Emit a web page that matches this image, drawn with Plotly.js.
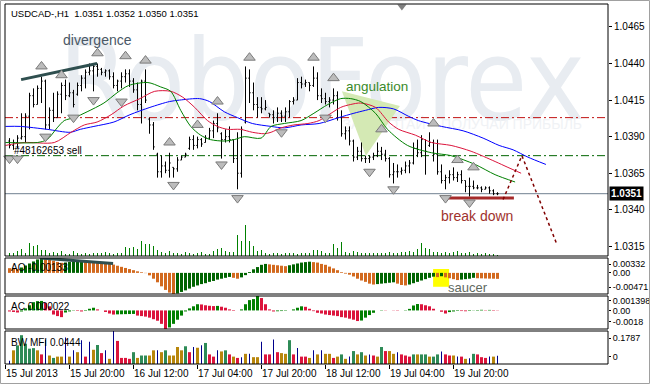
<!DOCTYPE html>
<html><head><meta charset="utf-8">
<script src="https://cdn.plot.ly/plotly-3.0.1.min.js"></script>
<style>html,body{margin:0;padding:0;background:#fff;}#chart{width:650px;height:384px;}</style>
</head><body><div id="chart"></div>
<script>
// ---------------- DATA ----------------
const chartTitle = "USDCAD-,H1\u00a0\u00a01.0351 1.0352 1.0350 1.0351";
const timeTickIndex = [0, 16, 32, 48, 64, 80, 96, 112];
const timeTickText = ["15 Jul 2013", "15 Jul 20:00", "16 Jul 12:00", "17 Jul 04:00", "17 Jul 20:00", "18 Jul 12:00", "19 Jul 04:00", "19 Jul 20:00"];
const priceTicks = [1.0465, 1.0440, 1.0415, 1.0390, 1.0365, 1.0340, 1.0315];

const openP = [1.0387,1.0384,1.0386,1.0389,1.0390,1.0404,1.0418,1.0412,1.0423,1.0428,
 1.0398,1.0408,1.0403,1.0419,1.0425,1.0418,1.0420,1.0419,1.0425,1.0430,
 1.0434,1.0435,1.0438,1.0436,1.0434,1.0435,1.0431,1.0425,1.0428,1.0431,
 1.0433,1.0428,1.0422,1.0412,1.0428,1.0402,1.0398,1.0378,1.0366,1.0370,
 1.0367,1.0369,1.0368,1.0374,1.0376,1.0382,1.0388,1.0384,1.0388,1.0386,
 1.0389,1.0394,1.0399,1.0392,1.0388,1.0390,1.0388,1.0375,1.0365,1.0400,
 1.0430,1.0420,1.0412,1.0410,1.0409,1.0406,1.0405,1.0403,1.0406,1.0404,
 1.0407,1.0414,1.0415,1.0427,1.0426,1.0427,1.0425,1.0430,1.0418,1.0416,
 1.0414,1.0415,1.0418,1.0403,1.0392,1.0394,1.0387,1.0376,1.0380,1.0375,
 1.0375,1.0376,1.0377,1.0380,1.0378,1.0375,1.0364,1.0366,1.0366,1.0367,
 1.0370,1.0372,1.0382,1.0379,1.0388,1.0384,1.0386,1.0378,1.0366,1.0360,
 1.0362,1.0364,1.0362,1.0364,1.0360,1.0356,1.0356,1.0355,1.0355,1.0354,
 1.0355,1.0353,1.0351];
const highP = [1.0389,1.0388,1.0391,1.0406,1.0406,1.0420,1.0423,1.0425,1.0431,1.0429,
 1.0410,1.0420,1.0421,1.0427,1.0429,1.0427,1.0422,1.0427,1.0432,1.0436,
 1.0440,1.0440,1.0440,1.0437,1.0436,1.0436,1.0434,1.0429,1.0434,1.0436,
 1.0436,1.0430,1.0427,1.0429,1.0436,1.0403,1.0400,1.0379,1.0377,1.0373,
 1.0379,1.0369,1.0376,1.0377,1.0379,1.0390,1.0391,1.0390,1.0389,1.0391,
 1.0396,1.0401,1.0406,1.0393,1.0395,1.0397,1.0388,1.0393,1.0397,1.0438,
 1.0436,1.0427,1.0417,1.0417,1.0415,1.0406,1.0408,1.0410,1.0408,1.0410,
 1.0415,1.0417,1.0430,1.0431,1.0429,1.0427,1.0438,1.0434,1.0423,1.0420,
 1.0417,1.0423,1.0421,1.0408,1.0397,1.0397,1.0388,1.0383,1.0386,1.0377,
 1.0377,1.0379,1.0386,1.0383,1.0381,1.0376,1.0372,1.0371,1.0369,1.0373,
 1.0374,1.0386,1.0388,1.0391,1.0388,1.0393,1.0388,1.0388,1.0371,1.0364,
 1.0367,1.0369,1.0366,1.0367,1.0360,1.0362,1.0360,1.0357,1.0356,1.0356,
 1.0356,1.0354,1.0352];
const lowP = [1.0382,1.0381,1.0382,1.0388,1.0386,1.0395,1.0410,1.0412,1.0413,1.0395,
 1.0395,1.0400,1.0403,1.0406,1.0415,1.0417,1.0410,1.0418,1.0421,1.0423,
 1.0432,1.0421,1.0431,1.0432,1.0431,1.0429,1.0423,1.0421,1.0423,1.0427,
 1.0424,1.0420,1.0408,1.0399,1.0413,1.0392,1.0381,1.0362,1.0362,1.0365,
 1.0362,1.0362,1.0366,1.0374,1.0376,1.0381,1.0381,1.0382,1.0383,1.0386,
 1.0388,1.0389,1.0393,1.0375,1.0386,1.0386,1.0372,1.0354,1.0362,1.0399,
 1.0413,1.0408,1.0403,1.0406,1.0408,1.0403,1.0399,1.0400,1.0400,1.0400,
 1.0403,1.0412,1.0415,1.0423,1.0424,1.0421,1.0424,1.0415,1.0413,1.0412,
 1.0410,1.0412,1.0401,1.0390,1.0388,1.0384,1.0373,1.0374,1.0373,1.0372,
 1.0372,1.0374,1.0376,1.0374,1.0373,1.0362,1.0358,1.0362,1.0364,1.0365,
 1.0365,1.0371,1.0376,1.0376,1.0364,1.0383,1.0373,1.0364,1.0358,1.0354,
 1.0358,1.0360,1.0359,1.0358,1.0352,1.0349,1.0354,1.0354,1.0352,1.0354,
 1.0351,1.0350,1.0350];
const closeP = [1.0384,1.0386,1.0389,1.0390,1.0404,1.0418,1.0412,1.0423,1.0428,1.0398,
 1.0408,1.0403,1.0419,1.0425,1.0418,1.0420,1.0412,1.0425,1.0430,1.0434,
 1.0435,1.0438,1.0436,1.0434,1.0435,1.0431,1.0425,1.0428,1.0431,1.0433,
 1.0428,1.0422,1.0412,1.0428,1.0415,1.0398,1.0383,1.0366,1.0370,1.0367,
 1.0372,1.0368,1.0374,1.0376,1.0378,1.0388,1.0384,1.0388,1.0385,1.0389,
 1.0394,1.0399,1.0396,1.0388,1.0390,1.0388,1.0375,1.0365,1.0395,1.0430,
 1.0420,1.0412,1.0410,1.0409,1.0410,1.0405,1.0403,1.0406,1.0404,1.0407,
 1.0414,1.0415,1.0427,1.0426,1.0427,1.0425,1.0430,1.0418,1.0416,1.0414,
 1.0415,1.0418,1.0403,1.0392,1.0394,1.0387,1.0376,1.0380,1.0375,1.0375,
 1.0376,1.0377,1.0380,1.0378,1.0375,1.0364,1.0366,1.0366,1.0367,1.0370,
 1.0372,1.0382,1.0379,1.0388,1.0380,1.0386,1.0378,1.0366,1.0360,1.0362,
 1.0364,1.0362,1.0364,1.0360,1.0356,1.0356,1.0355,1.0355,1.0354,1.0355,
 1.0353,1.0351,1.0351];
const tickVolume = [150,150,250,350,150,650,500,550,300,300,
 150,200,150,250,100,100,250,150,100,150,
 100,150,150,150,200,150,100,150,150,450,
 400,450,350,750,600,600,500,300,200,150,
 250,150,150,100,200,150,100,150,200,100,
 100,250,350,400,250,200,200,1050,750,1550,
 750,500,250,300,150,100,150,150,100,150,
 150,150,100,150,150,150,300,300,250,150,
 150,600,400,700,200,150,250,200,150,150,
 150,150,150,150,150,200,150,150,200,200,
 250,200,350,650,400,350,200,200,150,200,
 150,200,250,150,150,200,100,150,100,150,
 100,100,50];

// Alligator lines
const jawX = [0,3.7,10.4,16.2,18.7,22.1,27.1,31.1,36.1,41,43.5,48.5,51,54.7,58,61.7,66.4,69.7,73.9,78.4,83.3,87.1,90,93.3,97,100.7,103.2,109,114.4,119.4,123.4,126.9,130.6,135.1];
const jawY = [1.0397,1.0397,1.0395,1.0393,1.0395,1.0397,1.0400,1.0405,1.0410,1.0414,1.0415,1.0416,1.0414,1.0407,1.0403,1.0399,1.0397,1.0396,1.0398,1.0399,1.0403,1.0406,1.0408,1.0410,1.0409,1.0404,1.0401,1.0397,1.0394,1.0389,1.0384,1.0381,1.0376,1.0371];
const teethX = [0,4.7,12.2,16.4,19.7,22.9,26.4,29.6,33.6,37.3,41.3,44.3,47.3,50.5,53,55.5,58.7,61.7,64.7,66.4,68.9,72.1,75.6,78.4,83.8,86.3,88.8,92.5,95.8,98.3,102.5,106.5,111.4,116.4,122.4,125.6,128.9];
const teethY = [1.0384,1.0386,1.0386,1.0393,1.0398,1.0400,1.0405,1.0411,1.0416,1.0421,1.0421,1.0417,1.0410,1.0401,1.0397,1.0395,1.0395,1.0393,1.0392,1.0393,1.0396,1.0398,1.0399,1.0401,1.0410,1.0412,1.0413,1.0410,1.0400,1.0395,1.0391,1.0386,1.0384,1.0380,1.0373,1.0369,1.0365];
const lipsX = [0,8,10.4,12.9,14.7,17.2,20.4,24.6,27.9,30.8,35.6,38.8,41.3,43.8,46.3,48.8,51.2,54.7,57.2,59.7,63.9,66.4,69.7,73.9,77.1,80.6,83.8,86.3,88.8,92.5,95.5,100.5,106.5,111.4,117.4,122.4,127.4];
const lipsY = [1.0386,1.0386,1.0388,1.0396,1.0401,1.0403,1.0407,1.0413,1.0420,1.0425,1.0427,1.0424,1.0421,1.0408,1.0397,1.0391,1.0388,1.0387,1.0388,1.0390,1.0389,1.0397,1.0399,1.0401,1.0406,1.0412,1.0416,1.0416,1.0414,1.0406,1.0395,1.0384,1.0379,1.0377,1.0371,1.0364,1.0359];

// Fractals
const fracUpX = [9,14,23,30,35,41,48,53,61,77,82,94,107,113,117];
const fracUpY = [1.0438,1.0432,1.0447,1.0445,1.0442,1.0386,1.0398,1.0414,1.0444,1.0444,1.0430,1.0395,1.0399,1.0374,1.0369];
const fracDnX = [1,3,10,17,22,29,42,54,58,69,80,91,97,110,116];
const fracDnY = [1.0375,1.0375,1.0390,1.0403,1.0415,1.0414,1.0357,1.0371,1.0348,1.0393,1.0403,1.0366,1.0354,1.0348,1.0345];

// Levels and drawings
const stopLevel = 1.0403, orderLevel = 1.0377, bidPrice = 1.0351;
const divX = [3.9, 22.9], divY = [1.0429, 1.0440];
const aoDivX = [8.6, 26.9], aoDivY = [0.00332, 0.0021];
const breakX = [110.6, 127.1], breakY = [1.0348, 1.0348];
const forecastX = [124.4, 129.1, 137.9], forecastY = [1.0347, 1.0377, 1.0316];
const angX = [84.1, 98.6, 90.1], angY = [1.0421, 1.0411, 1.0377];
const saucerX = [106.9, 110.9], saucerY = [-0.0031, 0.00087];
const shiftMarkX = [99.1], shiftMarkY = [1.0479];

// Awesome Oscillator
const aoVal = [0.00105,0.00098,0.00090,0.00120,0.00165,0.00210,0.00255,0.00300,0.00332,0.00315,
 0.00295,0.00270,0.00245,0.00225,0.00232,0.00242,0.00250,0.00256,0.00262,0.00255,
 0.00248,0.00240,0.00232,0.00225,0.00218,0.00205,0.00185,0.00160,0.00135,0.00110,
 0.00085,0.00060,0.00035,0.00015,-0.00005,-0.00055,-0.00130,-0.00210,-0.00300,-0.00380,
 -0.00440,-0.00471,-0.00460,-0.00425,-0.00390,-0.00350,-0.00310,-0.00280,-0.00250,-0.00230,
 -0.00200,-0.00180,-0.00150,-0.00130,-0.00110,-0.00090,-0.00110,-0.00130,-0.00100,-0.00050,
 0.00020,0.00080,0.00130,0.00180,0.00200,0.00190,0.00180,0.00170,0.00160,0.00150,
 0.00170,0.00190,0.00210,0.00230,0.00240,0.00250,0.00240,0.00230,0.00200,0.00180,
 0.00140,0.00100,0.00060,0.00016,-0.00016,-0.00040,-0.00080,-0.00130,-0.00170,-0.00200,
 -0.00240,-0.00260,-0.00250,-0.00240,-0.00230,-0.00220,-0.00210,-0.00240,-0.00270,-0.00280,
 -0.00260,-0.00230,-0.00200,-0.00170,-0.00140,-0.00110,-0.00085,-0.00095,-0.00075,-0.00100,
 -0.00120,-0.00140,-0.00160,-0.00150,-0.00140,-0.00130,-0.00110,-0.00120,-0.00122,-0.00125,
 -0.00128,-0.00130,-0.00133];
const aoRange = [-0.00471, 0.00332];
const aoTickText = ["0.00332", "0.00", "-0.00471"];

// Accelerator Oscillator
const acVal = [-0.00010,-0.00015,-0.00020,-0.00010,0.00020,0.00050,0.00080,0.00090,0.00092,0.00074,
 0.00040,-0.00040,-0.00055,-0.00065,-0.00020,-0.00010,-0.00003,-0.00005,-0.00010,-0.00005,
 0.00016,0.00026,0.00010,0.00000,-0.00015,-0.00030,-0.00040,-0.00038,-0.00037,-0.00036,
 -0.00035,-0.00034,-0.00050,-0.00055,-0.00060,-0.00070,-0.00085,-0.00100,-0.00130,-0.00180,
 -0.00165,-0.00130,-0.00090,-0.00050,-0.00010,0.00020,0.00040,0.00060,0.00058,0.00050,
 0.00045,0.00042,0.00044,0.00036,0.00026,0.00010,-0.00005,0.00000,0.00010,0.00060,
 0.00100,0.00110,0.001398,0.00120,0.00060,0.00010,-0.00010,-0.00008,-0.00006,-0.00004,
 0.00000,0.00010,0.00026,0.00040,0.00035,0.00016,-0.00007,-0.00023,-0.00030,-0.00040,
 -0.00045,-0.00050,-0.00055,-0.00065,-0.00070,-0.00080,-0.00090,-0.00103,-0.00098,-0.00070,
 -0.00045,-0.00023,0.00000,0.00003,0.00002,0.00000,-0.00002,-0.00003,0.00000,0.00003,
 0.00015,0.00048,0.00062,0.00060,0.00050,0.00040,0.00016,0.00000,-0.00013,-0.00030,
 -0.00016,-0.00010,-0.00005,-0.00006,-0.00008,-0.00005,-0.00002,0.00004,0.00006,0.00003,
 0.00005,0.00004,0.000022];
const acRange = [-0.0018, 0.001398];
const acTickText = ["0.001398", "0.00", "-0.0018"];

// BW Market Facilitation Index (value, zone: g=green, f=fade, s=squat, b=fake)
const mfiVal = [0.018,0.074,0.101,0.156,0.110,0.083,0.086,0.074,0.052,0.132,
 0.046,0.033,0.040,0.040,0.144,0.040,0.074,0.064,0.129,0.040,
 0.120,0.077,0.103,0.059,0.074,0.028,0.1787,0.125,0.033,0.033,
 0.028,0.064,0.033,0.046,0.046,0.046,0.074,0.074,0.064,0.074,
 0.046,0.046,0.092,0.074,0.096,0.064,0.092,0.088,0.101,0.114,
 0.052,0.040,0.074,0.068,0.074,0.052,0.040,0.033,0.037,0.055,
 0.055,0.037,0.037,0.120,0.052,0.052,0.132,0.064,0.059,0.055,
 0.129,0.052,0.086,0.040,0.040,0.033,0.074,0.052,0.074,0.055,
 0.055,0.033,0.040,0.052,0.028,0.040,0.070,0.052,0.064,0.046,
 0.052,0.046,0.040,0.092,0.070,0.070,0.055,0.064,0.052,0.046,
 0.040,0.052,0.052,0.052,0.052,0.040,0.040,0.052,0.068,0.052,
 0.046,0.046,0.040,0.040,0.028,0.031,0.055,0.052,0.037,0.033,
 0.040,0.040,0.0444];
const mfiZone = ["b","f","g","g","g","g","g","f","s","b",
 "f","g","f","f","b","f","b","f","b","s",
 "b","f","g","s","b","f","b","s","s","s",
 "s","g","f","g","g","f","f","b","f","g",
 "f","f","f","f","g","s","b","f","b","g",
 "s","s","b","f","g","s","f","s","b","f",
 "b","f","f","b","s","s","b","s","f","f",
 "g","s","b","s","s","f","b","f","b","f",
 "f","s","f","g","f","b","g","f","g","f",
 "b","s","f","g","s","f","f","b","s","s",
 "s","g","f","g","g","f","g","g","b","s",
 "s","f","b","s","f","b","g","s","s","s",
 "b","f","b"];
const mfiRange = [0, 0.1787];
const mfiTickText = ["0.1787", "0"];

// ---------------- STYLE / GEOMETRY ----------------
const W = 650, H = 384, ML = 5, MR = 42, MT = 4, MB = 20;
const pw = W - ML - MR, ph = H - MT - MB;
const pX = px => (px - ML) / pw;
const pY = py => (H - MB - py) / ph;
const FONT = "Liberation Sans, Arial, sans-serif";
const WM_FONT = "Liberation Sans Narrow, Arial Narrow, DejaVu Sans Condensed, Liberation Sans, sans-serif";
const barIndex = openP.map((_, k) => k + 1);

// label positions inset (MT4 draws the min/max labels inside the window)
const aoTickPos = [0.00195, 0, -0.00315];
const acTickPos = [0.00092, 0, -0.00112];
const mfiTickPos = [0.1408, 0.038];

const aoColors = aoVal.map((v, k) => (k > 0 && v > aoVal[k - 1]) ? "#006400" : "#d2691e");
const acColors = acVal.map((v, k) => (k > 0 && v > acVal[k - 1]) ? "#008000" : "#dc143c");
const zoneColor = {g: "#2e8b57", f: "#b8860b", s: "#dc143c", b: "#00008b"};
const mfiColors = mfiZone.map(z => zoneColor[z]);
const mfiWidths = mfiZone.map(z => z === "b" ? 0.25 : 0.75);

const dMain = [pY(256), 1], dAO = [pY(294), pY(258)], dAC = [pY(329), pY(296)], dMFI = [0, pY(331)];

const fracMarker = sym => ({symbol: sym, size: 10, color: "#bcbcbc", line: {color: "#7a7a7a", width: 1}});

const traces = [
  {type: "bar", x: barIndex, y: tickVolume, xaxis: "x", yaxis: "y5", width: 0.25,
   marker: {color: "#008000", line: {width: 0}}, hoverinfo: "skip"},
  {type: "ohlc", x: barIndex, open: openP, high: highP, low: lowP, close: closeP, xaxis: "x", yaxis: "y",
   increasing: {line: {color: "#000000", width: 1}}, decreasing: {line: {color: "#000000", width: 1}},
   tickwidth: 0.3, hoverinfo: "skip"},
  {type: "scatter", mode: "lines", x: jawX, y: jawY, line: {color: "#0000ff", width: 1, shape: "spline", smoothing: 0.8}, hoverinfo: "skip"},
  {type: "scatter", mode: "lines", x: teethX, y: teethY, line: {color: "#dc143c", width: 1, shape: "spline", smoothing: 0.8}, hoverinfo: "skip"},
  {type: "scatter", mode: "lines", x: lipsX, y: lipsY, line: {color: "#008000", width: 1, shape: "spline", smoothing: 0.8}, hoverinfo: "skip"},
  {type: "scatter", mode: "lines", x: divX, y: divY, line: {color: "#2f4f4f", width: 3}, hoverinfo: "skip"},
  {type: "scatter", mode: "lines", x: breakX, y: breakY, line: {color: "#a52a2a", width: 3}, hoverinfo: "skip"},
  {type: "scatter", mode: "lines", x: forecastX, y: forecastY, line: {color: "#800000", width: 1.5, dash: "dot"}, hoverinfo: "skip"},
  {type: "scatter", mode: "markers", x: fracUpX, y: fracUpY, cliponaxis: false, marker: fracMarker("triangle-up"), hoverinfo: "skip"},
  {type: "scatter", mode: "markers", x: fracDnX, y: fracDnY, cliponaxis: false, marker: fracMarker("triangle-down"), hoverinfo: "skip"},
  {type: "scatter", mode: "markers", x: shiftMarkX, y: shiftMarkY, cliponaxis: false,
   marker: {symbol: "triangle-down", size: 8, color: "#808080", line: {width: 0}}, hoverinfo: "skip"},
  {type: "bar", x: barIndex, y: aoVal, xaxis: "x", yaxis: "y2", width: 0.75,
   marker: {color: aoColors, line: {width: 0}}, hoverinfo: "skip"},
  {type: "scatter", mode: "lines", x: aoDivX, y: aoDivY, xaxis: "x", yaxis: "y2", cliponaxis: false,
   line: {color: "#2f4f4f", width: 3}, hoverinfo: "skip"},
  {type: "bar", x: barIndex, y: acVal, xaxis: "x", yaxis: "y3", width: 0.75,
   marker: {color: acColors, line: {width: 0}}, hoverinfo: "skip"},
  {type: "bar", x: barIndex, y: mfiVal, xaxis: "x", yaxis: "y4", width: mfiWidths,
   marker: {color: mfiColors, line: {width: 0}}, hoverinfo: "skip"}
];

const tickFont = {family: FONT, size: 10, color: "#000"};
const smallTickFont = {family: FONT, size: 9, color: "#000"};
const yCommon = {side: "right", anchor: "x", showgrid: false, zeroline: false, ticks: "outside",
  ticklen: 3, tickcolor: "#000", tickfont: tickFont, fixedrange: true, showline: false};

const frame = d => ({type: "rect", xref: "paper", yref: "paper", x0: 0, x1: 1, y0: d[0], y1: d[1],
  line: {color: "#000", width: 1}, fillcolor: "rgba(0,0,0,0)", layer: "above"});

const angPath = "M" + angX.map((x, k) => x + "," + angY[k]).join("L") + "Z";

const layout = {
  width: W, height: H, margin: {l: ML, r: MR, t: MT, b: MB, pad: 0},
  paper_bgcolor: "#ffffff", plot_bgcolor: "rgba(0,0,0,0)", showlegend: false,
  barmode: "overlay", font: {family: FONT, size: 10, color: "#000"},
  xaxis: {domain: [0, 1], anchor: "y4", range: [-0.125, 150.625], tickmode: "array",
    tickvals: timeTickIndex, ticktext: timeTickText, ticks: "outside", ticklen: 4, tickcolor: "#000",
    ticklabelposition: "outside right", tickfont: tickFont, showgrid: false, zeroline: false,
    showline: false, rangeslider: {visible: false}, fixedrange: true},
  yaxis: Object.assign({}, yCommon, {domain: dMain, range: [1.03084, 1.04807], tickmode: "array",
    tickvals: priceTicks, ticktext: priceTicks.map(v => v.toFixed(4))}),
  yaxis2: Object.assign({}, yCommon, {domain: dAO, range: aoRange, tickmode: "array", ticklen: 2,
    tickvals: aoTickPos, ticktext: aoTickText, tickfont: smallTickFont}),
  yaxis3: Object.assign({}, yCommon, {domain: dAC, range: acRange, tickmode: "array", ticklen: 2,
    tickvals: acTickPos, ticktext: acTickText, tickfont: smallTickFont}),
  yaxis4: Object.assign({}, yCommon, {domain: dMFI, range: mfiRange, tickmode: "array", ticklen: 2,
    tickvals: mfiTickPos, ticktext: mfiTickText, tickfont: smallTickFont}),
  yaxis5: {overlaying: "y", range: [0, 12600], visible: false, fixedrange: true},
  shapes: [
    {type: "rect", xref: "paper", yref: "paper", x0: pX(60), x1: pX(588), y0: pY(134), y1: pY(10),
     line: {width: 0}, fillcolor: "rgba(0,0,0,0)", layer: "below",
     label: {text: "RoboForex", textposition: "middle right", padding: 0,
       font: {family: WM_FONT, size: 112, color: "#e8ecf1"}}},
    {type: "rect", xref: "paper", yref: "paper", x0: pX(330), x1: pX(588), y0: pY(131), y1: pY(115),
     line: {width: 0}, fillcolor: "rgba(0,0,0,0)", layer: "below",
     label: {text: "ЗАРАБОТАЙ – ПОЛУЧАЙ ПРИБЫЛЬ", textposition: "middle right",
       font: {family: FONT, size: 14, color: "#f0f2f5"}}},
    {type: "path", xref: "x", yref: "y", path: angPath, fillcolor: "#d4e9b4", line: {width: 0}, layer: "below"},
    {type: "rect", xref: "x", yref: "y2", x0: saucerX[0], x1: saucerX[1], y0: saucerY[0], y1: saucerY[1],
     fillcolor: "#ffff00", line: {width: 0}, layer: "below"},
    {type: "line", xref: "paper", yref: "y", x0: 0, x1: 1, y0: stopLevel, y1: stopLevel,
     line: {color: "#c01010", width: 1, dash: "8px,3px,2px,3px"}, layer: "below"},
    {type: "line", xref: "paper", yref: "y", x0: 0, x1: 1, y0: orderLevel, y1: orderLevel,
     line: {color: "#006400", width: 1, dash: "8px,3px,2px,3px"}, layer: "below"},
    {type: "line", xref: "paper", yref: "y", x0: 0, x1: 1, y0: bidPrice, y1: bidPrice,
     line: {color: "#708090", width: 1}, layer: "below"},
    frame(dMain), frame(dAO), frame(dAC), frame(dMFI),
    {type: "rect", xref: "paper", yref: "paper", x0: pX(0.5), x1: pX(649.5), y0: pY(383.5), y1: pY(0.5),
     line: {color: "#a0a0a0", width: 1}, fillcolor: "rgba(0,0,0,0)", layer: "above"}
  ],
  annotations: [
    {xref: "paper", yref: "paper", x: pX(9), y: pY(13), xanchor: "left", yanchor: "middle", showarrow: false,
     text: chartTitle, font: {family: FONT, size: 9.5, color: "#000"}},
    {xref: "paper", yref: "paper", x: pX(97), y: pY(40), xanchor: "center", yanchor: "middle", showarrow: false,
     text: "divergence", font: {family: FONT, size: 14, color: "#4a5866"}},
    {xref: "paper", yref: "paper", x: pX(377), y: pY(87), xanchor: "center", yanchor: "middle", showarrow: false,
     text: "angulation", font: {family: FONT, size: 13.5, color: "#3a8a2a"}},
    {xref: "paper", yref: "paper", x: pX(477), y: pY(216), xanchor: "center", yanchor: "middle", showarrow: false,
     text: "break down", font: {family: FONT, size: 14, color: "#a0322d"}},
    {xref: "paper", yref: "paper", x: pX(12), y: pY(150), xanchor: "left", yanchor: "middle", showarrow: false,
     text: "#48162653 sell", font: {family: FONT, size: 10, color: "#000"}},
    {xref: "paper", yref: "paper", x: pX(468), y: pY(287), xanchor: "center", yanchor: "middle", showarrow: false,
     text: "saucer", font: {family: FONT, size: 13, color: "#5f6a5f"}},
    {xref: "paper", yref: "paper", x: pX(9), y: pY(267), xanchor: "left", yanchor: "middle", showarrow: false,
     text: "AO -0.00133", font: {family: FONT, size: 10, color: "#000"}},
    {xref: "paper", yref: "paper", x: pX(9), y: pY(306), xanchor: "left", yanchor: "middle", showarrow: false,
     text: "AC 0.000022", font: {family: FONT, size: 10, color: "#000"}},
    {xref: "paper", yref: "paper", x: pX(9), y: pY(342), xanchor: "left", yanchor: "middle", showarrow: false,
     text: "BW MFI 0.0444", font: {family: FONT, size: 10, color: "#000"}},
    {xref: "paper", yref: "y", x: 1, y: bidPrice, xanchor: "left", yanchor: "middle", xshift: 1, showarrow: false,
     text: bidPrice.toFixed(4), bgcolor: "#000000", borderpad: 1,
     font: {family: FONT, size: 10, color: "#ffffff", weight: "bold"}}
  ]
};

Plotly.newPlot("chart", traces, layout, {staticPlot: true, displayModeBar: false});
</script>
</body></html>
